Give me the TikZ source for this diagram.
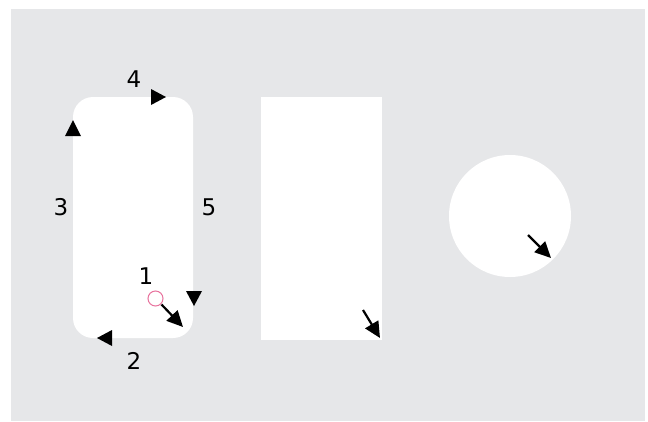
\documentclass[tikz,border=0pt]{standalone}
\usepackage{fontspec}
\setmainfont{DejaVu Sans}
\usetikzlibrary{arrows.meta}
\definecolor{bggray}{HTML}{E6E7E9}
\definecolor{pinkc}{HTML}{E8739E}
\tikzset{
  shapebox/.style={fill=white, draw=none},
  lbl/.style={font=\fontsize{23}{23}\selectfont, inner sep=0pt, text=black},
  marker/.style={fill=black, draw=none},
  bigarrow/.style={line width=2.2pt, -{Triangle[length=16pt, width=15pt]}, shorten >=0pt}
}
\begin{document}
\begin{tikzpicture}[x=1pt, y=-1pt]
\useasboundingbox (0,0) rectangle (648,421);
\fill[bggray] (11,9) rectangle (645,421);
% shapes
\fill[shapebox, rounded corners=20pt] (73,97) rectangle (193,338);
\fill[shapebox] (261,97) rectangle (382,340);
\fill[shapebox] (510,216) circle (61);
% labels
\node[lbl] (l4) at (134,79) {4};
\node[lbl] (l3) at (61,207) {3};
\node[lbl] (l5) at (209,207) {5};
\node[lbl] (l1) at (146,276) {1};
\node[lbl] (l2) at (134,361) {2};
% markers
\fill[marker] (151,89) -- (151,105) -- (166,97) -- cycle;
\fill[marker] (65,136) -- (81,136) -- (73,120) -- cycle;
\fill[marker] (186,291) -- (202,291) -- (194,306) -- cycle;
\fill[marker] (112,330) -- (112,346) -- (97,338) -- cycle;
% start circle
\node[circle, draw=pinkc, line width=1pt, minimum size=15pt, inner sep=0pt] (start) at (155.5,298.5) {};
% arrows
\coordinate (a1s) at (161.5,304.5);
\coordinate (a1e) at (183,327);
\draw[bigarrow] (a1s) -- (a1e);
\coordinate (a2s) at (363,310);
\coordinate (a2e) at (380,338);
\draw[bigarrow] (a2s) -- (a2e);
\coordinate (a3s) at (528,235);
\coordinate (a3e) at (551,258);
\draw[bigarrow] (a3s) -- (a3e);
\end{tikzpicture}
\end{document}
